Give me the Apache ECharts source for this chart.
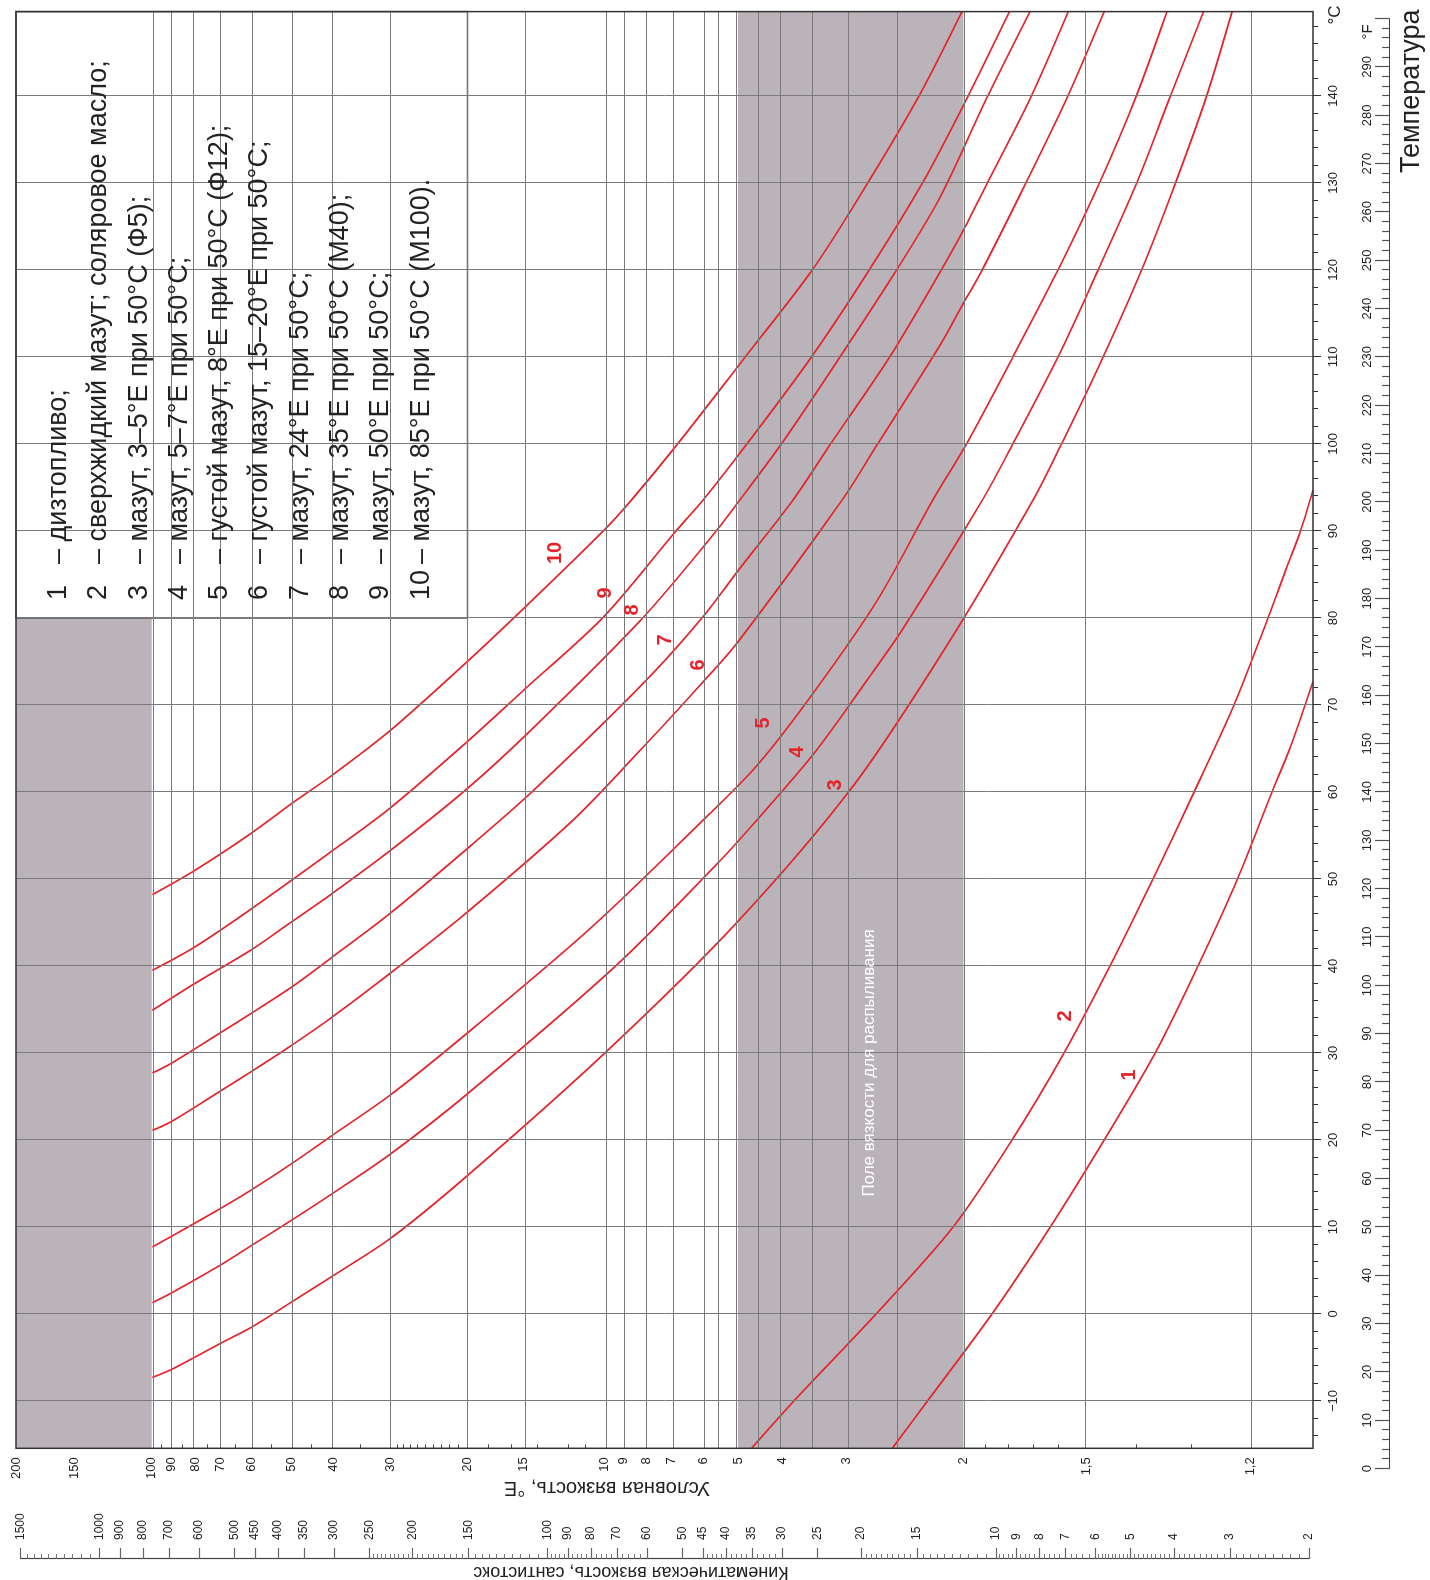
<!DOCTYPE html>
<html>
<head>
<meta charset="utf-8">
<script src="https://cdn.jsdelivr.net/npm/echarts@6/dist/echarts.min.js"></script>
<style>
html,body{margin:0;padding:0;background:#fff;overflow:hidden;}
body{width:1430px;height:1580px;position:relative;}
#chart{position:absolute;left:0;top:0;width:1580px;height:1430px;transform-origin:0 0;transform:translateY(1580px) rotate(-90deg);}
</style>
</head>
<body>
<div id="chart"></div>
<script>
// ================= DATA =================
// curves: [temperature °C, kinematic viscosity cSt]
const CURVE_1 = [[-15.4,17.0],[-10,14.2],[0,10.2],[10,7.56],[20,5.73],[30,4.41],[40,3.54],[50,2.89],[60,2.42],[65.2,2.20],[72.7,1.96]];
const CURVE_2 = [[-15.4,35.0],[-10,28.2],[0,18.5],[10,12.45],[20,9.20],[30,7.04],[40,5.56],[50,4.46],[60,3.61],[70,2.94],[80,2.47],[85.9,2.24],[90,2.09],[94.7,1.96]];
const CURVE_3 = [[-7.3,762],[-6.4,692],[-3.4,538],[-1.5,457],[1.4,372],[4.4,301],[8.7,224],[15.9,151],[30,74.5],[45,37.8],[60.7,20.8],[77,12.8],[93.6,8.25],[100.1,7.12],[110.1,5.75],[120.1,4.72],[130.2,3.96],[140.1,3.38],[149.7,2.97]];
const CURVE_4 = [[1.3,762],[2.4,692],[5.6,538],[7.9,457],[10.8,372],[13.9,301],[18.4,224],[25.3,151],[40,70.5],[52,41.4],[56.8,34.1],[64.6,25.3],[73.3,19.1],[79,16.0],[93.6,10.7],[100.1,9.14],[110.1,7.25],[120.1,5.90],[130.2,4.83],[140.1,4.07],[149.7,3.44]];
const CURVE_5 = [[7.7,762],[8.9,692],[12.1,538],[14.3,457],[17.3,372],[20.6,301],[25.2,224],[32.3,151],[44.5,79.6],[56.8,44.9],[62.9,34.3],[70.6,26.2],[82,18.4],[93.6,13.8],[100.1,11.6],[110.1,9.14],[120.1,7.25],[130.2,5.85],[140.1,4.85],[149.7,4.15]];
const CURVE_6 = [[21.1,762],[22.1,692],[25.6,538],[27.9,457],[30.9,372],[34.2,301],[39.2,224],[46.2,151],[56.8,87.6],[65.2,61.1],[72.7,44.9],[77.1,37.8],[93.6,22.0],[100.1,18.3],[111.4,13.3],[116.2,11.8],[120.1,10.7],[130.2,8.53],[140.1,6.89],[149.7,5.73]];
const CURVE_7 = [[27.7,762],[28.8,692],[32.3,538],[34.6,457],[37.6,372],[41.1,301],[46.1,224],[53.5,151],[59.9,109],[72.9,60.1],[80.2,44.9],[85.5,37.5],[93.6,28.3],[100.1,23.3],[110.1,17.2],[119.8,13.3],[124.6,11.8],[130.2,10.4],[140.1,8.31],[149.7,6.89]];
const CURVE_8 = [[34.9,762],[38.0,612],[41.9,457],[45.1,372],[48.4,301],[53.3,224],[60.4,151],[67.1,109],[80.1,61.1],[90.1,41.9],[93.6,37.2],[100.1,30.0],[110.1,22.2],[120.1,16.6],[128.4,13.3],[140.1,10.4],[149.7,8.39]];
const CURVE_9 = [[39.5,762],[42.2,612],[46.6,457],[53.3,301],[58.2,224],[65.8,151],[71.9,112],[80.1,75.1],[90.1,51.5],[93.6,44.9],[100.1,35.8],[110.1,25.7],[120.1,19.1],[130.2,14.5],[140.1,11.5],[149.7,9.32]];
const CURVE_10 = [[48.2,762],[51.0,612],[55.3,457],[58.7,372],[62.0,301],[67.1,224],[75.0,151],[81.3,112],[90.1,74.8],[93.6,64.9],[100.1,51.1],[110.1,36.1],[120.1,25.6],[130.2,19.2],[140.1,14.8],[149.7,11.9]];
const CURVES = [CURVE_1,CURVE_2,CURVE_3,CURVE_4,CURVE_5,CURVE_6,CURVE_7,CURVE_8,CURVE_9,CURVE_10];
const CURVE_NAMES = ['1','2','3','4','5','6','7','8','9','10'];

const LEGEND_TEXTS = [
  '– дизтопливо;',
  '– сверхжидкий мазут; соляровое масло;',
  '– мазут, 3–5°E при 50°C (Ф5);',
  '– мазут, 5–7°E при 50°C;',
  '– густой мазут, 8°E при 50°C (Ф12);',
  '– густой мазут, 15–20°E при 50°C;',
  '– мазут, 24°E при 50°C;',
  '– мазут, 35°E при 50°C (М40);',
  '– мазут, 50°E при 50°C;',
  '– мазут, 85°E при 50°C (М100).'
];

// axis ticks
const TEMP_C_TICKS = [-10,0,10,20,30,40,50,60,70,80,90,100,110,120,130,140];
const TEMP_F_TICKS = [0,10,20,30,40,50,60,70,80,90,100,110,120,130,140,150,160,170,180,190,200,210,220,230,240,250,260,270,280,290,300];
const TEMP_F_LABELS = TEMP_F_TICKS.filter(v => v < 300);
const E_LABELS = [200,150,100,90,80,70,60,50,40,30,20,15,10,9,8,7,6,5,4,3,2,1.5,1.2];
const E_GRID = [100,90,80,70,60,50,40,30,20,15,10,9,8,7,6,5.5,5,4.5,4,3.5,3,2.5,2,1.5,1.2];
const E_MINOR = [95,85,75,65,55,45,35,29,28,27,26,25,24,23,22,21,18,16,14,12,11,1.9,1.8,1.7,1.6,1.4,1.3];
// Engler degrees -> cSt, as the two scales of the chart line up
const E_TO_CST = [[1.2,2.71],[1.5,6.29],[2,11.8],[3,21.5],[4,30.0],[5,37.6],[6,44.9],[7,52.8],[8,60.3],[9,67.7],[10,74.8],[15,113],[20,151],[30,224],[40,301],[50,372],[60,457],[70,538],[80,612],[90,692],[100,764],[150,1137],[200,1534]];
const CST_LABELS = [1500,1000,900,800,700,600,500,450,400,350,300,250,200,150,100,90,80,70,60,50,45,40,35,30,25,20,15,10,9,8,7,6,5,4,3,2];
const CST_MINOR_STEPS = [[1000,1500,50],[100,250,5],[60,100,2],[30,45,1],[10,20,0.5],[6,10,0.2],[2,6,0.1]];

const SPRAY_FIELD_E = [5, 2];      // °E band "Поле вязкости для распыливания"
const HEAVY_BOX = [100, 80];       // °E above 100, below 80 °C (grey)
const LEGEND_BOX = [20, 80];       // °E above 20, above 80 °C (legend)

// ================= LAYOUT =================
const W = 1580, H = 1430;                 // unrotated canvas
const T_MIN = -15.44, T_MAX = 149.7;
const U_MIN = Math.log10(1.96), U_MAX = Math.log10(1535);
const G = {left: 131.7, right: 11.6, top: 16, bottom: 117};
const RED = '#e4232b', GRAY = '#bab4ba', GRID_C = '#7a7a7a', TXT = '#222';
const FONT = '"Liberation Sans", Arial, Helvetica, sans-serif';

const L10 = Math.log10;
function eToCst(E) {
  for (let i = 0; i < E_TO_CST.length - 1; i++) {
    const [e0, v0] = E_TO_CST[i], [e1, v1] = E_TO_CST[i + 1];
    if (E >= e0 && E <= e1) {
      const f = (L10(E) - L10(e0)) / (L10(e1) - L10(e0));
      return Math.pow(10, L10(v0) + f * (L10(v1) - L10(v0)));
    }
  }
  return NaN;
}
const uE = E => L10(eToCst(E));
const FtoC = f => (f - 32) * 5 / 9;
const cxOfT = T => G.left + (T - T_MIN) / (T_MAX - T_MIN) * (W - G.left - G.right);
const cyOfU = u => G.top + (U_MAX - u) / (U_MAX - U_MIN) * (H - G.top - G.bottom);
// picture coordinate (after rotation) -> canvas coordinate
const pic = (px, py) => [W - py, px];

const C_MINOR = [];
for (let t = -14; t <= 148; t += 2) if (t % 10 !== 0) C_MINOR.push(t);
const F_MINOR = [];
for (let f = 0; f <= 300; f += 2) if (f % 10 !== 0) F_MINOR.push(f);
const CST_MINOR = [];
CST_MINOR_STEPS.forEach(([a, b, s]) => {
  const n = Math.round((b - a) / s);
  for (let i = 1; i < n; i++) {
    const v = +(a + i * s).toFixed(3);
    if (CST_LABELS.indexOf(v) < 0) CST_MINOR.push(v);
  }
});

const fmtE = v => {
  let best = null, bd = 1e9;
  E_LABELS.forEach(e => { const d = Math.abs(uE(e) - v); if (d < bd) { bd = d; best = e; } });
  return String(best).replace('.', ',');
};

const EPS = 1e-7;
const cMin = L10(2) - EPS, cMax = L10(1500) + EPS;
const gridF = {left: cxOfT(FtoC(0)), right: W - cxOfT(FtoC(300)), bottom: 41, height: 30};
const gridC = {left: 21, width: 40, top: cyOfU(L10(1500)), bottom: H - cyOfU(L10(2))};

const tickFont = {fontFamily: FONT, color: TXT};
const noGrid = {show: false, containLabel: false, outerBoundsMode: 'none'};
const noLine = {show: false, onZero: false};

const hidden = {type: 'line', xAxisIndex: 0, yAxisIndex: 0, symbol: 'none', showSymbol: false, silent: true,
  data: [[T_MIN, U_MIN]], lineStyle: {opacity: 0}, animation: false};

const series = [
  Object.assign({}, hidden, {z: 1, markArea: {silent: true, itemStyle: {color: GRAY},
    data: [[{coord: [T_MIN, uE(SPRAY_FIELD_E[0])]}, {coord: [T_MAX, uE(SPRAY_FIELD_E[1])]}]]}}),
  Object.assign({}, hidden, {z: 2, markLine: {silent: true, symbol: ['none', 'none'], label: {show: false},
    emphasis: {disabled: true}, lineStyle: {color: GRID_C, width: 1, type: 'solid'},
    data: E_GRID.map(e => ({yAxis: uE(e)})).concat(TEMP_C_TICKS.map(t => ({xAxis: t})))}}),
  Object.assign({}, hidden, {z: 3, markArea: {silent: true, data: [
    [{coord: [T_MIN, uE(HEAVY_BOX[0])], itemStyle: {color: GRAY}}, {coord: [HEAVY_BOX[1], U_MAX]}],
    [{coord: [LEGEND_BOX[1], uE(LEGEND_BOX[0])], itemStyle: {color: '#fff', borderColor: '#555', borderWidth: 1.5}}, {coord: [T_MAX, U_MAX]}]
  ]}})
].concat(CURVES.map((c, i) => ({
  type: 'line', name: CURVE_NAMES[i], xAxisIndex: 0, yAxisIndex: 0,
  data: c.map(([t, nu]) => [t, L10(nu)]),
  smooth: 0.3, symbol: 'none', showSymbol: false, silent: true, clip: true, z: 4,
  lineStyle: {color: RED, width: 1.7}
})));

// ---------- text ----------
const graphic = [];
graphic.push({type: 'rect', silent: true, z: 100,
  shape: {x: G.left, y: G.top, width: W - G.left - G.right, height: H - G.top - G.bottom},
  style: {fill: 'none', stroke: '#333', lineWidth: 1.5}});
function txt(p, text, font, color, align, rot) {
  graphic.push({type: 'text', silent: true, z: 110, x: p[0], y: p[1], rotation: rot || 0,
    style: {text: text, font: font, fill: color, textAlign: align || 'center', textVerticalAlign: 'middle',
      align: align || 'center', verticalAlign: 'middle'}});
}
// legend lines
CURVE_NAMES.forEach((n, i) => {
  const px = 58.5 + 40.3 * i;
  txt(pic(px, 600), n, '27px ' + FONT, TXT, 'left');
  txt(pic(px, 564), LEGEND_TEXTS[i], '27px ' + FONT, TXT, 'left');
});
// curve labels (picture coordinates)
const CURVE_LABEL_AT = [[1129,1075],[1065,1016],[835,785],[797,752],[763,723],[698,665],[665,640],[632,610],[605,593],[555,553]];
CURVE_LABEL_AT.forEach((p, i) => txt(pic(p[0], p[1]), CURVE_NAMES[i], 'bold 20px ' + FONT, RED, 'center'));
txt(pic(869, 1063), 'Поле вязкости для распыливания', '17px ' + FONT, '#fff', 'center');
txt(pic(607, 1488), 'Условная вязкость, °E', '20px ' + FONT, TXT, 'center', Math.PI / 2);
txt(pic(631, 1572), 'Кинематическая вязкость, сантистокс', '18px ' + FONT, TXT, 'center', Math.PI / 2);
txt(pic(1335, 15), '°C', '17px ' + FONT, TXT, 'center');
txt(pic(1368, 32), '°F', '15px ' + FONT, TXT, 'center');
txt(pic(1412, 173), 'Температура', '27px ' + FONT, TXT, 'left');

const option = {
  animation: false,
  backgroundColor: '#fff',
  grid: [
    Object.assign({left: G.left, right: G.right, top: G.top, bottom: G.bottom}, noGrid),
    Object.assign({}, gridF, noGrid),
    Object.assign({}, gridC, noGrid)
  ],
  xAxis: [
    {gridIndex: 0, type: 'value', min: T_MIN, max: T_MAX, position: 'bottom', z: 20,
      axisLine: noLine, splitLine: {show: false},
      axisTick: {show: true, length: 8, customValues: TEMP_C_TICKS, lineStyle: {color: '#333', width: 1}},
      axisLabel: Object.assign({show: true, customValues: TEMP_C_TICKS, margin: 14, fontSize: 13, hideOverlap: false,
        formatter: v => v < 0 ? '−' + Math.abs(v) : String(v)}, tickFont)},
    {gridIndex: 0, type: 'value', min: T_MIN, max: T_MAX, position: 'bottom', z: 20,
      axisLine: noLine, splitLine: {show: false}, axisLabel: {show: false},
      axisTick: {show: true, length: 5, customValues: C_MINOR, lineStyle: {color: '#333', width: 1}}},
    {gridIndex: 1, type: 'value', min: 0, max: 300, position: 'bottom', z: 20,
      axisLine: {show: true, onZero: false, lineStyle: {color: '#444', width: 1.2}}, splitLine: {show: false},
      axisTick: {show: true, inside: true, length: 14, customValues: TEMP_F_TICKS, lineStyle: {color: '#555', width: 1.2}},
      axisLabel: Object.assign({show: true, inside: true, customValues: TEMP_F_LABELS, margin: 15, fontSize: 13, hideOverlap: false}, tickFont)},
    {gridIndex: 1, type: 'value', min: 0, max: 300, position: 'bottom', z: 20,
      axisLine: noLine, splitLine: {show: false}, axisLabel: {show: false},
      axisTick: {show: true, inside: true, length: 7, customValues: F_MINOR, lineStyle: {color: '#555', width: 1.2}}},
    {gridIndex: 2, type: 'value', show: false, axisLine: noLine}
  ],
  yAxis: [
    {gridIndex: 0, type: 'value', min: U_MIN, max: U_MAX, position: 'left', z: 20,
      axisLine: noLine, splitLine: {show: false},
      axisTick: {show: true, inside: true, length: 4, customValues: E_MINOR.map(uE), lineStyle: {color: '#444'}},
      axisLabel: Object.assign({show: true, customValues: E_LABELS.map(uE), margin: 9, fontSize: 13, hideOverlap: false, formatter: fmtE}, tickFont)},
    {gridIndex: 1, type: 'value', show: false, axisLine: noLine},
    {gridIndex: 2, type: 'value', min: cMin, max: cMax, position: 'left', z: 20,
      axisLine: {show: true, onZero: false, lineStyle: {color: '#444', width: 1.2}}, splitLine: {show: false},
      axisTick: {show: true, inside: true, length: 11, customValues: CST_LABELS.map(L10), lineStyle: {color: '#666', width: 1.2}},
      axisLabel: Object.assign({show: true, inside: true, margin: 19, fontSize: 12, hideOverlap: false,
        customValues: CST_LABELS.map(L10), formatter: v => String(Math.round(Math.pow(10, v)))}, tickFont)},
    {gridIndex: 2, type: 'value', min: cMin, max: cMax, position: 'left', z: 20,
      axisLine: noLine, splitLine: {show: false}, axisLabel: {show: false},
      axisTick: {show: true, inside: true, length: 5, customValues: CST_MINOR.map(L10), lineStyle: {color: '#777', width: 1}}}
  ],
  series: series,
  graphic: graphic
};

const chart = echarts.init(document.getElementById('chart'), null, {renderer: 'canvas'});
chart.setOption(option);
</script>
</body>
</html>
